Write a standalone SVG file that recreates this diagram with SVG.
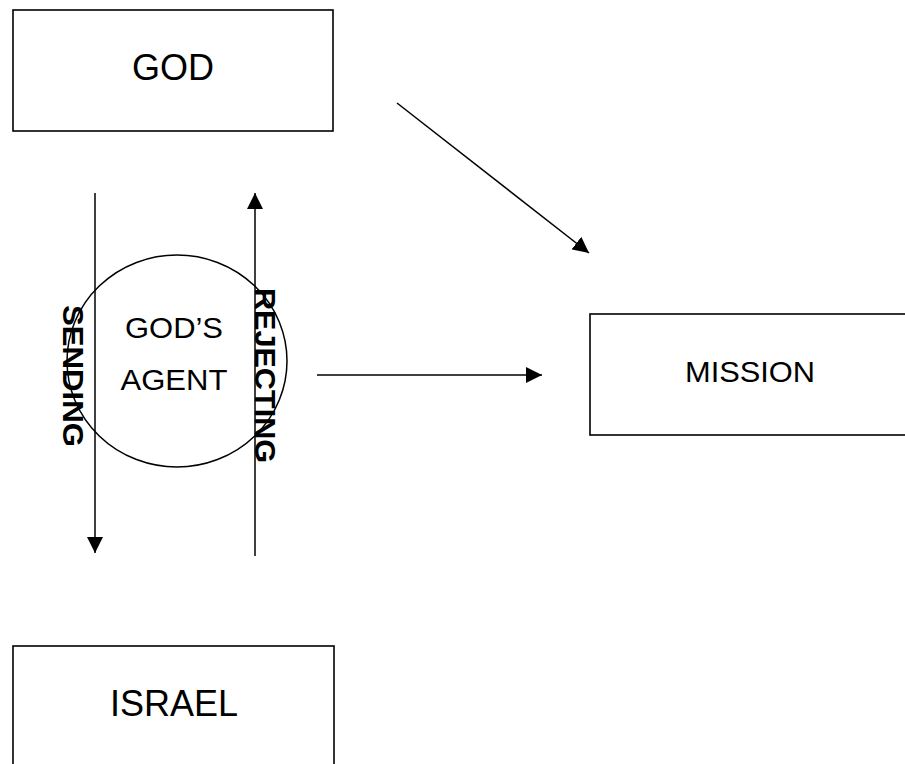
<svg xmlns="http://www.w3.org/2000/svg" width="905" height="764" viewBox="0 0 905 764">
<style>
.box{fill:#fff;stroke:#000;stroke-width:1.6}
.t{font-family:"Liberation Sans",Arial,sans-serif;fill:#000;text-anchor:middle}
.v{font-family:"Liberation Sans",Arial,sans-serif;font-weight:bold;fill:#000}
.c{stroke:#000;stroke-width:1.5;fill:none}
</style>
<defs>
<marker id="ah" markerUnits="userSpaceOnUse" markerWidth="18" markerHeight="16" refX="16" refY="8" orient="auto">
<path d="M0,0 L16,8 L0,16 Z" fill="#000"/>
</marker>
</defs>
<rect width="905" height="764" fill="#fff"/>
<g id="god">
<rect class="box" x="13" y="10" width="320" height="121"/>
<text class="t" x="173" y="80" font-size="36">GOD</text>
</g>
<g id="mission">
<rect class="box" x="590" y="314" width="330" height="121"/>
<text class="t" x="750" y="382" font-size="30" textLength="130" lengthAdjust="spacingAndGlyphs">MISSION</text>
</g>
<g id="israel">
<rect class="box" x="13" y="646" width="321" height="130"/>
<text class="t" x="174" y="716" font-size="36">ISRAEL</text>
</g>
<g id="agent">
<ellipse cx="177" cy="361" rx="110" ry="106" fill="none" stroke="#000" stroke-width="1.5"/>
<text class="t" x="174" y="338" font-size="30" textLength="98" lengthAdjust="spacingAndGlyphs">GOD’S</text>
<text class="t" x="174" y="390" font-size="30" textLength="107" lengthAdjust="spacingAndGlyphs">AGENT</text>
</g>
<g id="connectors">
<line class="c" x1="95" y1="193" x2="95" y2="553" marker-end="url(#ah)"/>
<line class="c" x1="255" y1="556" x2="255" y2="193" marker-end="url(#ah)"/>
<line class="c" x1="397" y1="103" x2="589" y2="253" marker-end="url(#ah)"/>
<line class="c" x1="317" y1="375" x2="542" y2="375" marker-end="url(#ah)"/>
</g>
<g id="labels">
<text class="v" transform="translate(63,305) rotate(90)" font-size="30" textLength="142" lengthAdjust="spacingAndGlyphs">SENDING</text>
<text class="v" transform="translate(255,288) rotate(90)" font-size="30" textLength="175" lengthAdjust="spacingAndGlyphs">REJECTING</text>
</g>
</svg>
